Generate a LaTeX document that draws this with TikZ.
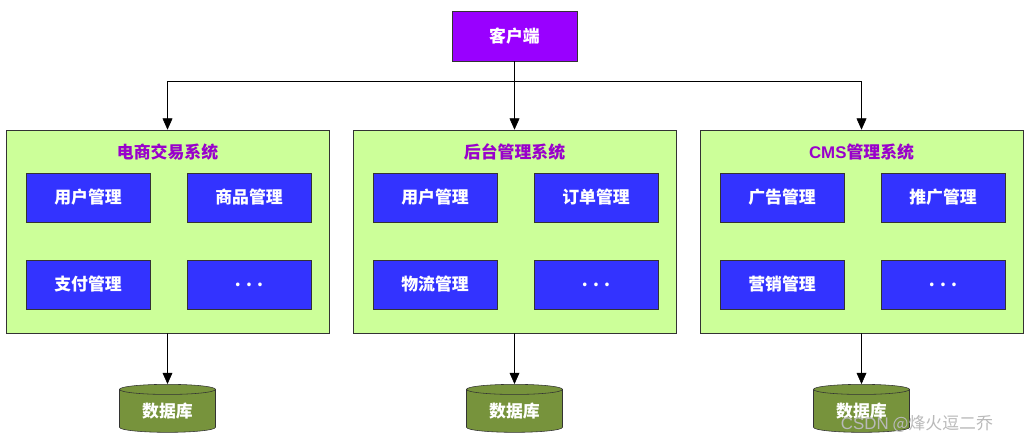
\documentclass[tikz,border=0pt]{standalone}
\usepackage{fontspec}
\setmainfont{Noto Sans CJK SC}
\setsansfont{Liberation Sans}
\usepackage{tikz}
\usetikzlibrary{arrows.meta,shapes.geometric}

\definecolor{clientfill}{HTML}{9900FF}
\definecolor{sysfill}{HTML}{CCFF99}
\definecolor{modfill}{HTML}{3333FF}
\definecolor{dbfill}{HTML}{77933C}
\definecolor{titlecol}{HTML}{9900CC}
\definecolor{edgecol}{HTML}{333333}

\tikzset{
  sysbox/.style={draw=edgecol, fill=sysfill, minimum width=8.075cm, minimum height=5.075cm, inner sep=0pt},
  modbox/.style={draw=edgecol, fill=modfill, text=white, font=\bfseries\fontsize{12}{14}\selectfont, minimum width=3.1cm, minimum height=1.225cm, inner sep=0pt},
  systitle/.style={text=titlecol, font=\bfseries\fontsize{12}{14}\selectfont},
  dbnode/.style={cylinder, shape border rotate=90, aspect=0.2, draw=edgecol, fill=dbfill, text=white, font=\bfseries\fontsize{12}{14}\selectfont, minimum width=2.4cm, minimum height=1.2cm, inner sep=0pt},
  arr/.style={-{Triangle[width=7pt,length=8pt]}, black}
}

\begin{document}
\begin{tikzpicture}[x=0.025cm, y=-0.025cm]
   \useasboundingbox (0,0) rectangle (1029,441);

   % client on top
   \node[draw=edgecol, fill=clientfill, text=white, font=\bfseries\fontsize{12}{14}\selectfont,
         minimum width=3.125cm, minimum height=1.25cm, inner sep=0pt] (client) at (514.5,36) {客户端};
   \coordinate (split) at (514.5,81);

   % the three systems
   \node[sysbox] (ecom)  at (167.5,231.5) {};
   \node[sysbox] (admin) at (514.5,231.5) {};
   \node[sysbox] (cms)   at (861.5,231.5) {};

   \node[systitle] (ecomT)  at (167.5,152) {电商交易系统};
   \node[systitle] (adminT) at (514.5,152) {后台管理系统};
   \node[systitle] (cmsT)   at (861.5,152) {\textsf{CMS}管理系统};

   % modules
   \node[modbox] (ecomA)  at (88,197.5)  {用户管理};
   \node[modbox] (ecomB)  at (249,197.5) {商品管理};
   \node[modbox] (ecomC)  at (88,284.5)  {支付管理};
   \node[modbox] (ecomD)  at (249,284.5) {. . .};

   \node[modbox] (adminA) at (435,197.5) {用户管理};
   \node[modbox] (adminB) at (596,197.5) {订单管理};
   \node[modbox] (adminC) at (435,284.5) {物流管理};
   \node[modbox] (adminD) at (596,284.5) {. . .};

   \node[modbox] (cmsA)   at (782,197.5) {广告管理};
   \node[modbox] (cmsB)   at (943,197.5) {推广管理};
   \node[modbox] (cmsC)   at (782,284.5) {营销管理};
   \node[modbox] (cmsD)   at (943,284.5) {. . .};

   % databases
   \node[dbnode] (ecomDB)  at (167.5,411) {数据库};
   \node[dbnode] (adminDB) at (514.5,411) {数据库};
   \node[dbnode] (cmsDB)   at (861.5,411) {数据库};

   % connectors
   \draw (client.south) -- (split);
   \draw[arr] (split) -| (ecom.north);
   \draw[arr] (split) -- (admin.north);
   \draw[arr] (split) -| (cms.north);

   \draw[arr] (ecom.south)  -- (ecomDB.north);
   \draw[arr] (admin.south) -- (adminDB.north);
   \draw[arr] (cms.south)   -- (cmsDB.north);

   % watermark
   \node[text=gray!55, font=\fontsize{12}{14}\selectfont, anchor=west] (mark) at (836,424) {\textsf{CSDN} @烽火逗二乔};
\end{tikzpicture}
\end{document}
